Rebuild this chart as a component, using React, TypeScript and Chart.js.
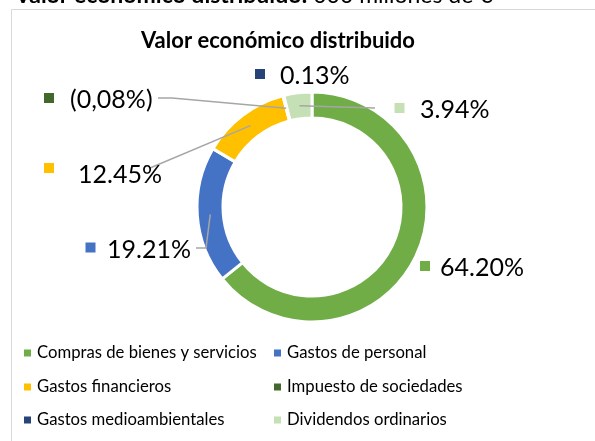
import React, { useEffect, useRef } from "react";
import { Chart, registerables } from "chart.js";

Chart.register(...registerables);

// ---- data ----
const categories = [
  "Compras de bienes y servicios",
  "Gastos de personal",
  "Gastos financieros",
  "Impuesto de sociedades",
  "Gastos medioambientales",
  "Dividendos ordinarios",
];
const shares = [64.2, 19.21, 12.45, 0, 0.13, 3.94];
const valueLabels = ["64.20%", "19.21%", "12.45%", "(0,08%)", "0.13%", "3.94%"];
const chartTitle = "Valor económico distribuido";
const headerBold = "Valor económico distribuido:";
const headerRest = " 000 millones de €";

// ---- styles ----
const colors = ["#70AD47", "#4472C4", "#FFC000", "#43682B", "#264478", "#C5E0B4"];
const FONT = "Lato, 'Open Sans', sans-serif";
// label layout relative to doughnut centre: square centre, text left-middle, leader start points
const labelLayout = [
  { sq: [113, 59], tx: [128, 61], lead: null },
  { sq: [-221.5, 40.5], tx: [-205, 43], lead: [[-116, 41], [-106, 41]] },
  { sq: [-263, -39], tx: [-234, -32], lead: [[-162, -39]] },
  { sq: [-263, -109], tx: [-242, -107], lead: [[-154, -109], [-140, -109]] },
  { sq: [-52, -133], tx: [-32, -131], lead: null },
  { sq: [87.5, -99], tx: [108, -97], lead: [[63, -99]] },
];
const legendCols = [
  { sq: 24, tx: 37 },
  { sq: 274, tx: 287 },
];
const legendRows = [353, 387, 420];

const decorPlugin = {
  id: "decor",
  afterDraw(chart: any) {
    const ctx = chart.ctx as CanvasRenderingContext2D;
    const meta = chart.getDatasetMeta(0);
    const arc0 = meta.data[0] as any;
    const cx = arc0.x;
    const cy = arc0.y;
    ctx.save();

    // chart frame
    ctx.strokeStyle = "#D9D9D9";
    ctx.lineWidth = 1;
    ctx.beginPath();
    ctx.moveTo(11.5, 441);
    ctx.lineTo(11.5, 9.5);
    ctx.lineTo(595, 9.5);
    ctx.stroke();

    // cropped header text
    ctx.fillStyle = "#000";
    ctx.textBaseline = "alphabetic";
    ctx.textAlign = "left";
    ctx.font = `bold 23px ${FONT}`;
    ctx.fillText(headerBold, 15, 3);
    const w = ctx.measureText(headerBold).width;
    ctx.font = `23px ${FONT}`;
    ctx.fillText(headerRest, 15 + w, 3);

    // title
    ctx.font = `bold 22px ${FONT}`;
    ctx.textAlign = "center";
    ctx.textBaseline = "middle";
    ctx.fillText(chartTitle, 278, 41);

    // leader lines
    ctx.strokeStyle = "#A6A6A6";
    ctx.lineWidth = 1.5;
    meta.data.forEach((arc: any, i: number) => {
      const L = labelLayout[i];
      if (!L || !L.lead) return;
      const a = (arc.startAngle + arc.endAngle) / 2;
      const r = (arc.innerRadius + arc.outerRadius) / 2;
      ctx.beginPath();
      L.lead.forEach((p: number[], j: number) => {
        if (j === 0) ctx.moveTo(cx + p[0], cy + p[1]);
        else ctx.lineTo(cx + p[0], cy + p[1]);
      });
      ctx.lineTo(cx + Math.cos(a) * r, cy + Math.sin(a) * r);
      ctx.stroke();
    });

    // data labels
    ctx.textAlign = "left";
    ctx.textBaseline = "middle";
    ctx.font = `25px ${FONT}`;
    valueLabels.forEach((t, i) => {
      const L = labelLayout[i];
      ctx.fillStyle = colors[i];
      ctx.fillRect(cx + L.sq[0] - 5, cy + L.sq[1] - 5, 10, 10);
      ctx.fillStyle = "#000";
      ctx.fillText(t, cx + L.tx[0], cy + L.tx[1]);
    });

    // legend
    ctx.font = `16.7px ${FONT}`;
    categories.forEach((c, i) => {
      const col = legendCols[i % 2];
      const y = legendRows[Math.floor(i / 2)];
      ctx.fillStyle = colors[i];
      ctx.fillRect(col.sq, y - 3.5, 7, 7);
      ctx.fillStyle = "#000";
      ctx.fillText(c, col.tx, y);
    });

    ctx.restore();
  },
};

export default function App() {
  const ref = useRef<HTMLCanvasElement | null>(null);
  useEffect(() => {
    document.body.style.margin = "0";
    if (!ref.current) return;
    const chart = new Chart(ref.current, {
      type: "doughnut",
      data: {
        labels: categories,
        datasets: [
          {
            data: shares,
            backgroundColor: colors,
            borderColor: "#FFFFFF",
            borderWidth: 3,
          },
        ],
      },
      options: {
        responsive: false,
        animation: false,
        devicePixelRatio: 1,
        cutout: "77.4%",
        layout: { padding: { top: 90.5, bottom: 117.5, left: 195.5, right: 166.5 } },
        plugins: {
          legend: { display: false },
          title: { display: false },
          tooltip: { enabled: false },
        },
      },
      plugins: [decorPlugin],
    });
    return () => chart.destroy();
  }, []);
  return (
    <div style={{ position: "absolute", left: 0, top: 0, width: 595, height: 441, background: "#fff" }}>
      <canvas ref={ref} width={595} height={441} style={{ display: "block" }} />
    </div>
  );
}
